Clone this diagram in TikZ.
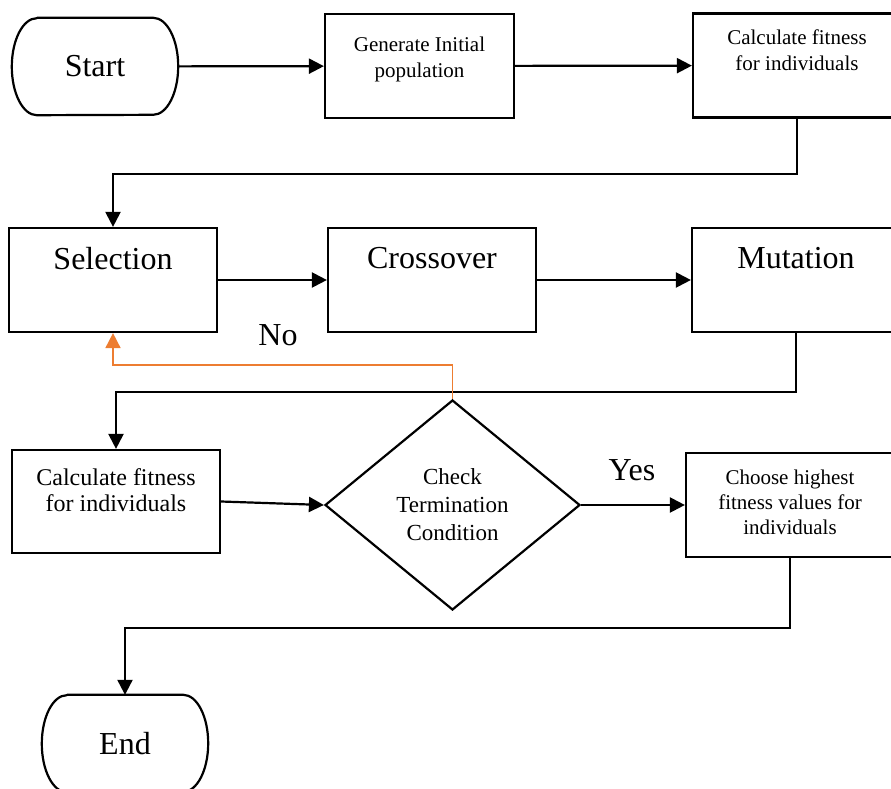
\documentclass[tikz,border=0pt]{standalone}
\usepackage{fontspec}
\setmainfont{Liberation Serif}
\usepackage{tikz}
\usetikzlibrary{shapes.geometric,arrows.meta}
\definecolor{noorange}{HTML}{ED7D31}
\tikzset{
  big/.style={font=\fontsize{32}{38}\selectfont},
  small/.style={font=\fontsize{21}{26}\selectfont, align=center, inner sep=0pt},
  mid/.style={font=\fontsize{24}{26}\selectfont, align=center, inner sep=0pt},
  term/.style={minimum width=166pt, minimum height=97pt, inner sep=0pt, big},
  proc/.style={draw, line width=2.2pt, minimum width=#1, minimum height=104pt, inner sep=0pt},
  arr/.style={line width=2.2pt, -{Triangle[length=15pt,width=15pt]}},
}
\begin{document}
\begin{tikzpicture}[x=1pt,y=-1pt]
    %initialisation
    \clip (0,0) rectangle (891,789);
    %definitions
    \node[term] (start) at (95,66.5) {Start};
    \node[proc=189pt, label={[small, anchor=north, yshift=-24pt]north:Generate Initial\\population}] (gen) at (419.5,66) {};
    \node[proc=208pt, label={[small, anchor=north, yshift=-17pt]north:Calculate fitness\\for individuals}] (calcA) at (797,65.5) {};
    \node[proc=208pt, label={[big, inner sep=0pt, anchor=north, yshift=-20pt]north:Selection}] (sel) at (113,280) {};
    \node[proc=208pt, label={[big, inner sep=0pt, anchor=north, yshift=-20pt]north:Crossover}] (cross) at (432,280) {};
    \node[proc=208pt, label={[big, inner sep=0pt, anchor=north, yshift=-20pt]north:Mutation}] (mut) at (796,280) {};
    \node[proc=208pt, minimum height=103pt, label={[mid, anchor=north, yshift=-19pt]north:Calculate fitness\\for individuals}] (calcB) at (116,501.5) {};
    \node[draw, line width=2.2pt, diamond, minimum width=255pt, minimum height=210pt, inner sep=0pt,
      font=\fontsize{23}{28}\selectfont, align=center] (check) at (452.5,505) {Check\\Termination\\Condition};
    \node[proc=208pt, label={[small, font=\fontsize{21}{25}\selectfont, anchor=north, yshift=-18pt]north:Choose highest\\fitness values for\\individuals}] (choose) at (790,505) {};
    \node[term] (end) at (125,743.5) {End};
    %terminal outlines
    \draw[line width=2.2pt] ([xshift=25pt]start.north west) -- ([xshift=-25pt]start.north east)
      arc[start angle=90, end angle=-90, x radius=25pt, y radius=48.5pt] -- ([xshift=25pt]start.south west)
      arc[start angle=270, end angle=90, x radius=25pt, y radius=48.5pt];
    \draw[line width=2.2pt] ([xshift=25pt]end.north west) -- ([xshift=-25pt]end.north east)
      arc[start angle=90, end angle=-90, x radius=25pt, y radius=48.5pt] -- ([xshift=25pt]end.south west)
      arc[start angle=270, end angle=90, x radius=25pt, y radius=48.5pt];
    %label
    \node[big] (no) at (278,335) {No};
    \node[big] (yes) at (632,470) {Yes};
    %drawing
    \draw[arr] (start) -- (gen);
    \draw[arr] (gen) -- (calcA);
    \draw[arr] (calcA.south) -- ++(0,55) -| (sel.north);
    \draw[arr] (sel) -- (cross);
    \draw[arr] (cross) -- (mut);
    \draw[arr] (mut.south) -- ++(0,59) -| (calcB.north);
    \draw[arr] (calcB.east) -- (check.west);
    \draw[arr] (check.east) -- (choose.west);
    \draw[arr] (choose.south) -- ++(0,70) -| (end.north);
    \draw[arr, noorange, line width=1.8pt] (check.north) -- ++(0,-34) -| (sel.south);
\end{tikzpicture}
\end{document}
